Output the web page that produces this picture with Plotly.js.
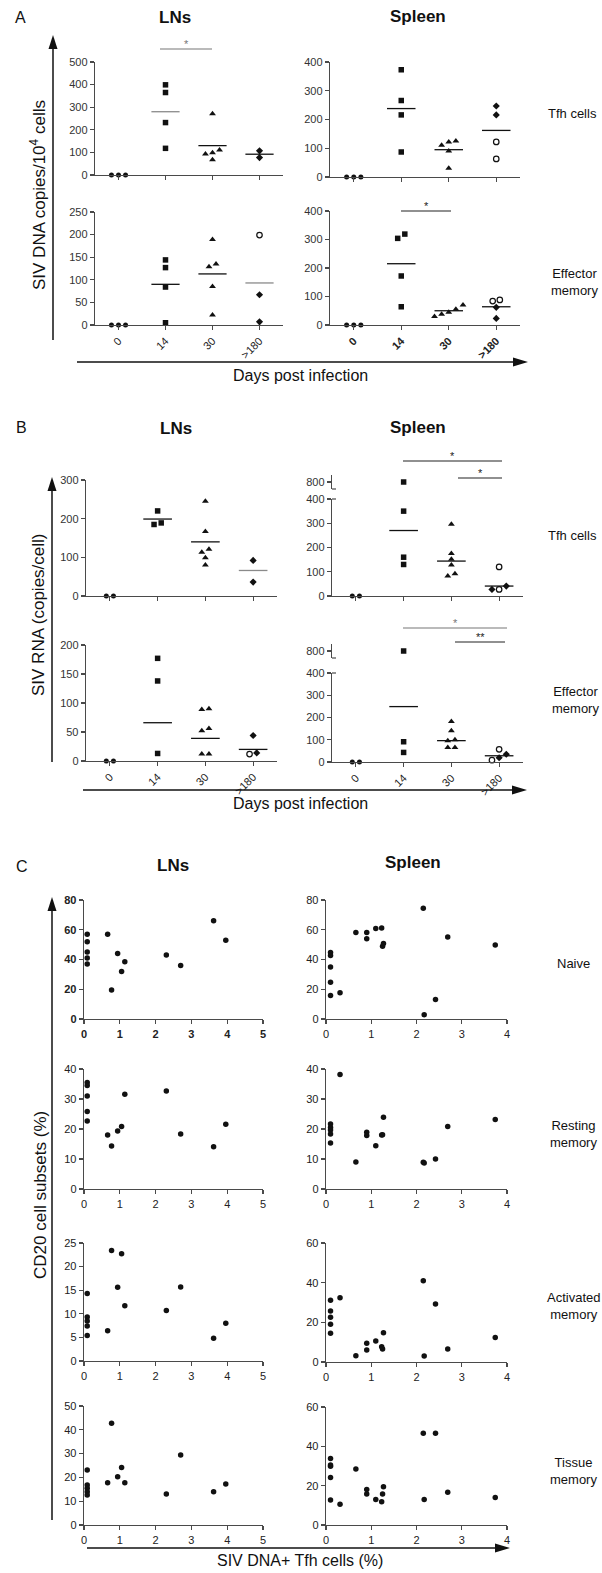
<!DOCTYPE html>
<html><head><meta charset="utf-8">
<script src="https://cdn.plot.ly/plotly-3.0.1.min.js"></script>
<style>html,body{margin:0;padding:0;background:#fff}</style>
</head><body><div id="chart" style="width:602px;height:1573px"></div>
<script>
// ---------------- DATA ----------------
const days = ['0', '14', '30', '>180'];

// Panel A : SIV DNA copies / 10^4 cells
const aLnTfh_d0 = [0, 0, 0];
const aLnTfh_d14 = [399, 365, 232, 118];
const aLnTfh_d30 = [271, 111, 99, 93, 67];
const aLnTfh_late = [107, 77];
const aLnTfh_lateOpen = [];
const aLnTfh_mean = [null, 280, 130, 92];

const aLnEm_d0 = [0, 0, 0];
const aLnEm_d14 = [144, 127, 84, 5];
const aLnEm_d30 = [189, 135, 129, 85, 22];
const aLnEm_late = [67, 7];
const aLnEm_lateOpen = [199];
const aLnEm_mean = [null, 90, 113, 93];

const aSpTfh_d0 = [0, 0, 0];
const aSpTfh_d14 = [373, 266, 216, 87];
const aSpTfh_d30 = [125, 122, 110, 90, 30];
const aSpTfh_late = [247, 216];
const aSpTfh_lateOpen = [122, 63];
const aSpTfh_mean = [null, 238, 95, 162];

const aSpEm_d0 = [0, 0, 0];
const aSpEm_d14 = [319, 304, 172, 64];
const aSpEm_d30 = [70, 55, 45, 38, 30];
const aSpEm_late = [62, 23];
const aSpEm_lateOpen = [88, 84];
const aSpEm_mean = [null, 215, 50, 64];

// Panel B : SIV RNA (copies/cell)
const bLnTfh_d0 = [0, 0];
const bLnTfh_d14 = [220, 185, 189];
const bLnTfh_d30 = [245, 167, 121, 113, 99, 80];
const bLnTfh_late = [92, 36];
const bLnTfh_lateOpen = [];
const bLnTfh_mean = [null, 199, 140, 66];

const bLnEm_d0 = [0, 0];
const bLnEm_d14 = [177, 138, 13];
const bLnEm_d30 = [90, 89, 56, 52, 12, 12];
const bLnEm_late = [44, 14];
const bLnEm_lateOpen = [12];
const bLnEm_mean = [null, 66, 39, 20];

const bSpTfh_d0 = [0, 0];
const bSpTfh_d14 = [790, 350, 160, 130];
const bSpTfh_d30 = [296, 175, 152, 128, 92, 82];
const bSpTfh_late = [41, 27];
const bSpTfh_lateOpen = [120, 27];
const bSpTfh_mean = [null, 270, 144, 41];

const bSpEm_d0 = [0, 0];
const bSpEm_d14 = [790, 405, 91, 43];
const bSpEm_d30 = [182, 140, 100, 95, 65, 65];
const bSpEm_late = [35, 19];
const bSpEm_lateOpen = [57, 8];
const bSpEm_mean = [null, 249, 96, 28];

// Panel C : CD20 subsets vs SIV DNA+ Tfh cells (%)
const cLnX = [0.09, 0.09, 0.09, 0.09, 0.09, 0.66, 0.77, 0.94, 1.05, 1.14, 2.3, 2.7, 3.62, 3.96];
const cLnNaive = [57, 52, 45, 41, 37, 57, 19.5, 44, 32, 38.5, 43, 36, 66, 53];
const cLnResting = [35.5, 34.5, 31, 25.8, 22.7, 18, 14.3, 19.3, 20.8, 31.6, 32.7, 18.3, 14.1, 21.6];
const cLnActivated = [14.3, 9.3, 8.5, 7.4, 5.4, 6.4, 23.4, 15.6, 22.7, 11.7, 10.7, 15.7, 4.8, 8];
const cLnTissue = [23.1, 16.8, 15.4, 14, 12.6, 17.8, 42.7, 20.3, 24.2, 17.8, 13, 29.4, 14, 17.2];

const cSpX = [0.1, 0.1, 0.1, 0.1, 0.1, 0.31, 0.66, 0.9, 0.9, 1.1, 1.23, 1.25, 1.27, 2.15, 2.17, 2.42, 2.69, 3.74];
const cSpNaive = [44.7, 42.7, 34.9, 24.7, 15.8, 17.6, 58.2, 58.2, 54, 60.9, 61.1, 48.9, 50.7, 74.4, 2.9, 13.1, 55.1, 49.8];
const cSpResting = [21.7, 20.5, 19.7, 18.3, 15.3, 38.2, 9, 18.9, 17.8, 14.4, 18, 18.1, 23.9, 8.9, 8.7, 10, 20.8, 23.2];
const cSpActivated = [31.1, 25.7, 22.5, 19, 14.5, 32.4, 3.2, 9.4, 6, 10.6, 7.7, 6.5, 14.8, 41, 3, 29.2, 6.5, 12.3];
const cSpTissue = [33.8, 30.5, 29.9, 24.1, 12.7, 10.5, 28.5, 18.1, 15.7, 13, 11.8, 15.7, 19.4, 46.7, 13, 46.7, 16.6, 14];

// ---------------- DRAWING ----------------
const W = 602, H = 1573;
const FONT = 'Arial, "Liberation Sans", "DejaVu Sans", sans-serif';
const AXC = '#4a4a4a';
const px = x => x / W, py = y => 1 - y / H;

const layout = {
  width: W, height: H, margin: {l: 0, r: 0, t: 0, b: 0},
  paper_bgcolor: '#fff', plot_bgcolor: 'rgba(0,0,0,0)', showlegend: false,
  font: {family: FONT, size: 11, color: '#333'},
  annotations: [], shapes: []
};
const traces = [];
let nAx = 0;
function baseAxis() {
  return {showline: true, linecolor: AXC, linewidth: 1.3, ticks: 'outside', ticklen: 4,
    tickwidth: 1.2, tickcolor: AXC, showgrid: false, zeroline: false, fixedrange: true,
    tickfont: {size: 11, color: '#333', family: FONT}};
}
function addPair(xpx, ypx, xopt, yopt) {
  nAx++;
  const n = nAx === 1 ? '' : String(nAx);
  const xid = 'x' + n, yid = 'y' + n;
  layout['xaxis' + n] = Object.assign(baseAxis(), {domain: [px(xpx[0]), px(xpx[1])], anchor: yid}, xopt);
  layout['yaxis' + n] = Object.assign(baseAxis(), {domain: [py(ypx[1]), py(ypx[0])], anchor: xid}, yopt);
  return {x: xid, y: yid, n};
}
function addY(xid, ypx, yopt) {
  nAx++;
  const n = String(nAx);
  layout['yaxis' + n] = Object.assign(baseAxis(), {domain: [py(ypx[1]), py(ypx[0])], anchor: xid}, yopt);
  return 'y' + n;
}

function spread(vals, thr) {
  const idx = vals.map((v, i) => i).sort((a, b) => vals[a] - vals[b]);
  const off = new Array(vals.length).fill(0);
  let s = 0;
  for (let k = 1; k <= idx.length; k++) {
    if (k === idx.length || vals[idx[k]] - vals[idx[k - 1]] > thr) {
      const n = k - s;
      for (let j = s; j < k; j++) off[idx[j]] = (j - s - (n - 1) / 2) * 0.15;
      s = k;
    }
  }
  return off;
}

const SYM = {
  d0: {symbol: 'circle', size: 5, color: '#111'},
  d14: {symbol: 'square', size: 5.5, color: '#111'},
  d30: {symbol: 'triangle-up', size: 6, color: '#111'},
  late: {symbol: 'diamond', size: 5.5, color: '#111'},
  lateOpen: {symbol: 'circle-open', size: 5.5, color: '#111', line: {width: 1.2, color: '#111'}}
};

function catPlot(c) {
  const tt = c.bold ? days.map(d => '<b>' + d.replace('>', '&gt;') + '</b>') : days.map(d => d.replace('>', '&gt;'));
  const ax = addPair(c.xpx, c.ypx,
    {range: [-0.5, 3.5], tickmode: 'array', tickvals: [0, 1, 2, 3], ticktext: tt,
      showticklabels: !!c.showX, tickangle: -45, tickfont: {size: 11, color: '#222', family: FONT}},
    {range: [0, c.yMax], tickmode: 'linear', tick0: 0, dtick: c.dtick});
  let topY = null;
  if (c.breakPx) {
    topY = addY(ax.x, [c.breakPx - 7, c.breakPx + 7],
      {range: [770, 830], tickmode: 'array', tickvals: [800], ticktext: ['800']});
    const xa = c.xpx[0];
    [c.breakPx + 7, c.ypx[0]].forEach(yy => {
      layout.shapes.push({type: 'line', xref: 'paper', yref: 'paper', x0: px(xa), x1: px(xa + 4),
        y0: py(yy), y1: py(yy), line: {color: AXC, width: 1.2}});
    });
  }
  c.groups.forEach((g, ci) => {
    const all = [], keys = [];
    g.forEach(([k, vals]) => vals.forEach(v => { all.push(v); keys.push(k); }));
    const off = spread(all, c.yMax * 0.045);
    const byKey = {};
    all.forEach((v, i) => {
      const onTop = c.breakPx && v > c.yMax * 1.3;
      const kk = keys[i] + (onTop ? '_top' : '');
      (byKey[kk] = byKey[kk] || {x: [], y: [], top: onTop, key: keys[i]});
      byKey[kk].x.push(ci + off[i]);
      byKey[kk].y.push(onTop ? 800 : v);
    });
    Object.values(byKey).forEach(b => {
      const s = SYM[b.key];
      traces.push({type: 'scatter', mode: 'markers', x: b.x, y: b.y, xaxis: ax.x,
        yaxis: b.top ? topY : ax.y, cliponaxis: false, hoverinfo: 'skip',
        marker: {symbol: s.symbol, size: s.size, color: s.color, line: s.line || {width: 0}}});
    });
  });
  c.mean.forEach((m, ci) => {
    if (m === null) return;
    const gray = (c.grayMeans || []).includes(ci);
    layout.shapes.push({type: 'line', xref: ax.x, yref: ax.y, x0: ci - 0.3, x1: ci + 0.3, y0: m, y1: m,
      line: {color: gray ? '#8a8a8a' : '#111', width: 1.3}});
  });
  return ax;
}

function scatPlot(xpx, ypx, xMax, yMax, dtick, xs, ys, bold) {
  const tf = {size: 11, color: '#222', family: FONT, weight: bold ? 'bold' : 'normal'};
  const ax = addPair(xpx, ypx,
    {range: [0, xMax], tickmode: 'linear', tick0: 0, dtick: 1, tickfont: tf},
    {range: [0, yMax], tickmode: 'linear', tick0: 0, dtick: dtick, tickfont: tf});
  traces.push({type: 'scatter', mode: 'markers', x: xs, y: ys, xaxis: ax.x, yaxis: ax.y,
    cliponaxis: false, hoverinfo: 'skip', marker: {symbol: 'circle', size: 5.5, color: '#111'}});
}

function G(d0, d14, d30, late, lateOpen) {
  return [[['d0', d0]], [['d14', d14]], [['d30', d30]], [['late', late], ['lateOpen', lateOpen]]];
}

// Panel A
catPlot({xpx: [95, 283], ypx: [62, 175], yMax: 500, dtick: 100,
  groups: G(aLnTfh_d0, aLnTfh_d14, aLnTfh_d30, aLnTfh_late, aLnTfh_lateOpen), mean: aLnTfh_mean, grayMeans: [1]});
catPlot({xpx: [95, 283], ypx: [212, 325], yMax: 250, dtick: 50, showX: true,
  groups: G(aLnEm_d0, aLnEm_d14, aLnEm_d30, aLnEm_late, aLnEm_lateOpen), mean: aLnEm_mean, grayMeans: [3]});
catPlot({xpx: [330, 520], ypx: [62, 177], yMax: 400, dtick: 100,
  groups: G(aSpTfh_d0, aSpTfh_d14, aSpTfh_d30, aSpTfh_late, aSpTfh_lateOpen), mean: aSpTfh_mean});
catPlot({xpx: [330, 520], ypx: [211, 325], yMax: 400, dtick: 100, showX: true, bold: true,
  groups: G(aSpEm_d0, aSpEm_d14, aSpEm_d30, aSpEm_late, aSpEm_lateOpen), mean: aSpEm_mean});

// Panel B
catPlot({xpx: [86, 277], ypx: [480, 596], yMax: 300, dtick: 100,
  groups: G(bLnTfh_d0, bLnTfh_d14, bLnTfh_d30, bLnTfh_late, bLnTfh_lateOpen), mean: bLnTfh_mean, grayMeans: [3]});
catPlot({xpx: [86, 277], ypx: [645, 761], yMax: 200, dtick: 50, showX: true,
  groups: G(bLnEm_d0, bLnEm_d14, bLnEm_d30, bLnEm_late, bLnEm_lateOpen), mean: bLnEm_mean});
catPlot({xpx: [332, 523], ypx: [499, 596], yMax: 400, dtick: 100, breakPx: 482,
  groups: G(bSpTfh_d0, bSpTfh_d14, bSpTfh_d30, bSpTfh_late, bSpTfh_lateOpen), mean: bSpTfh_mean});
catPlot({xpx: [332, 523], ypx: [673, 762], yMax: 400, dtick: 100, breakPx: 651, showX: true,
  groups: G(bSpEm_d0, bSpEm_d14, bSpEm_d30, bSpEm_late, bSpEm_lateOpen), mean: bSpEm_mean});

// Panel C
scatPlot([84, 263], [900, 1019], 5, 80, 20, cLnX, cLnNaive, true);
scatPlot([84, 263], [1069, 1189], 5, 40, 10, cLnX, cLnResting);
scatPlot([84, 263], [1243, 1361], 5, 25, 5, cLnX, cLnActivated);
scatPlot([84, 263], [1406, 1525], 5, 50, 10, cLnX, cLnTissue);
scatPlot([326, 507], [900, 1019], 4, 80, 20, cSpX, cSpNaive);
scatPlot([326, 507], [1069, 1189], 4, 40, 10, cSpX, cSpResting);
scatPlot([326, 507], [1243, 1362], 4, 60, 20, cSpX, cSpActivated);
scatPlot([326, 507], [1407, 1525], 4, 60, 20, cSpX, cSpTissue);

// ---------------- TEXT ----------------
function ann(x, y, text, size, extra) {
  layout.annotations.push(Object.assign({xref: 'paper', yref: 'paper', x: px(x), y: py(y), text,
    showarrow: false, xanchor: 'center', yanchor: 'middle',
    font: {family: FONT, size: size, color: '#111'}}, extra || {}));
}
ann(20, 18, 'A', 16); ann(21, 428, 'B', 16); ann(22, 866, 'C', 16);
ann(175, 18, '<b>LNs</b>', 17); ann(418, 17, '<b>Spleen</b>', 17);
ann(176, 429, '<b>LNs</b>', 17); ann(418, 428, '<b>Spleen</b>', 17);
ann(173, 865, '<b>LNs</b>', 17); ann(413, 862, '<b>Spleen</b>', 17);
ann(38, 195, 'SIV DNA copies/10<sup>4</sup> cells', 17, {textangle: -90});
ann(38, 615, 'SIV RNA (copies/cell)', 17, {textangle: -90});
ann(40, 1195, 'CD20 cell subsets (%)', 17, {textangle: -90});
ann(300, 375, 'Days post infection', 16);
ann(300, 803, 'Days post infection', 16);
ann(300, 1560, 'SIV DNA+ Tfh cells (%)', 16);
ann(572, 113, 'Tfh cells', 13); ann(574, 282, 'Effector<br>memory', 13);
ann(572, 535, 'Tfh cells', 13); ann(575, 700, 'Effector<br>memory', 13);
ann(573, 964, 'Naive', 13); ann(573, 1134, 'Resting<br>memory', 13);
ann(573, 1306, 'Activated<br>memory', 13); ann(573, 1471, 'Tissue<br>memory', 13);

// significance bars
function sig(x0, x1, y, label, ly, color) {
  layout.shapes.push({type: 'line', xref: 'paper', yref: 'paper', x0: px(x0), x1: px(x1), y0: py(y), y1: py(y),
    line: {color: color || '#222', width: 1.2}});
  ann((x0 + x1) / 2, ly, label, 11, {font: {family: FONT, size: 11, color: color || '#222'}});
}
sig(160, 212, 49, '*', 44, '#777');
sig(401, 451, 211, '*', 206);
sig(403, 502, 461, '*', 456);
sig(458, 502, 478, '*', 473);
sig(403, 507, 628, '*', 623, '#777');
sig(455, 505, 642, '**', 637);

// big arrows
function vArrow(x, tip, bottom) {
  layout.shapes.push({type: 'line', xref: 'paper', yref: 'paper', x0: px(x), x1: px(x), y0: py(bottom), y1: py(tip + 10),
    line: {color: '#111', width: 1.5}});
  layout.shapes.push({type: 'path', xref: 'paper', yref: 'paper', fillcolor: '#111', line: {width: 0},
    path: `M ${px(x - 4.5)},${py(tip + 14)} L ${px(x)},${py(tip)} L ${px(x + 4.5)},${py(tip + 14)} Z`});
}
function hArrow(y, left, tip) {
  layout.shapes.push({type: 'line', xref: 'paper', yref: 'paper', x0: px(left), x1: px(tip - 10), y0: py(y), y1: py(y),
    line: {color: '#111', width: 1.5}});
  layout.shapes.push({type: 'path', xref: 'paper', yref: 'paper', fillcolor: '#111', line: {width: 0},
    path: `M ${px(tip - 15)},${py(y - 4.5)} L ${px(tip)},${py(y)} L ${px(tip - 15)},${py(y + 4.5)} Z`});
}
vArrow(53, 35, 340); hArrow(362, 77, 528);
vArrow(52, 477, 762); hArrow(790, 83, 527);
vArrow(52, 897, 1520); hArrow(1548, 87, 510);

Plotly.newPlot('chart', traces, layout, {staticPlot: true, displayModeBar: false});
</script></body></html>
